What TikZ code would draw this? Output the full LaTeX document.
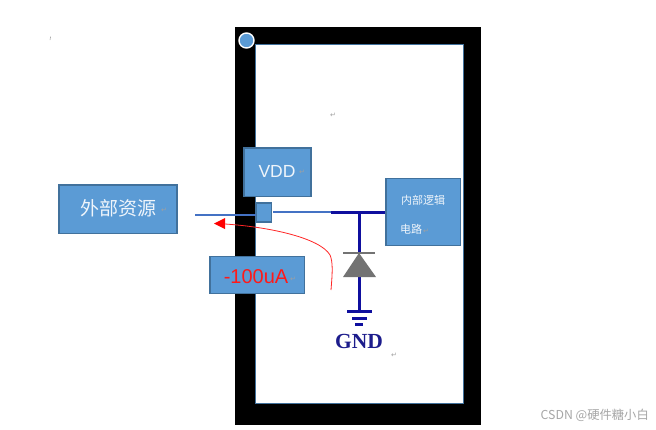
\documentclass[tikz,border=0pt]{standalone}
\usepackage{fontspec}
\setmainfont{Liberation Sans}
\newfontfamily\cjk{Noto Sans CJK SC}
\newfontfamily\dejavu{DejaVu Sans}
\newfontfamily\serifgnd{Liberation Serif}
\usetikzlibrary{arrows.meta}
\definecolor{boxfill}{HTML}{5B9BD5}
\definecolor{boxline}{HTML}{41719C}
\definecolor{wireblue}{HTML}{4472C4}
\definecolor{darkwire}{HTML}{0F0F9E}
\definecolor{gndblue}{HTML}{1C1C8C}
\definecolor{retgray}{HTML}{A0A0A0}
\tikzset{
  bluebox/.style={draw=boxline,line width=1.6pt,fill=boxfill,inner sep=0pt,anchor=north west},
  wirethin/.style={draw=wireblue,line width=2.2pt},
  wirethick/.style={draw=darkwire,line width=3pt},
  retmark/.style={text=retgray,font=\dejavu\fontsize{7}{7}\selectfont,inner sep=0pt},
}
\begin{document}
\begin{tikzpicture}[x=1pt,y=-1pt]
\useasboundingbox (0,0) rectangle (656,429);
\fill[white] (0,0) rectangle (656,429);
% package
\fill[black] (235,27) rectangle (481,425);
\draw[draw=boxline,fill=white,line width=1.6pt] (255.5,44.5) rectangle (463.5,403.5);
\node[circle,draw=white,fill=boxfill,line width=1.4pt,minimum size=15pt,inner sep=0pt] (pin) at (246.5,40.5) {};
% boxes
\node[bluebox,minimum width=67pt,minimum height=48.5pt] (vdd) at (243,147) {};
\node[text=white!90!boxfill,font=\fontsize{17.5}{17.5}\selectfont,inner sep=0pt] (vddt) at (277,171.5) {VDD};
\node[bluebox,minimum width=15pt,minimum height=19pt] (port) at (255.5,202) {};
\node[bluebox,minimum width=118pt,minimum height=48.5pt] (ext) at (58,184) {};
\node[text=white!90!boxfill,font=\cjk\fontsize{19}{19}\selectfont,inner sep=0pt] (extt) at (118.5,208) {外部资源};
\node[bluebox,minimum width=74.5pt,minimum height=67pt] (logic) at (385,177.5) {};
\node[text=white!90!boxfill,font=\cjk\fontsize{11}{11}\selectfont,inner sep=0pt] (logica) at (423,200) {内部逻辑};
\node[text=white!90!boxfill,font=\cjk\fontsize{11}{11}\selectfont,inner sep=0pt,anchor=west] (logicb) at (400,229) {电路};
\node[bluebox,minimum width=94.5pt,minimum height=37pt] (cur) at (209,255.5) {};
\node[text=red!90!white,font=\fontsize{20}{20}\selectfont,inner sep=0pt] (curt) at (256,277) {-100uA};
% wires
\coordinate (extend) at (195,215);
\coordinate (jn) at (359,212);
\coordinate (jl) at (331,212);
\coordinate (portr) at (273,212);
\coordinate (dtop) at (359,253);
\coordinate (dbot) at (359,277);
\coordinate (gnd1) at (359,311);
\draw[wirethin] (extend) -- (port.west |- extend);
\draw[wirethin] (portr) -- (jl);
\draw[wirethick] (jl) -- (logic.west |- jn);
\draw[wirethick] (jn) -- (dtop);
\draw[wirethick] (dbot) -- (gnd1);
% diode
\fill[black!55] (dtop) -- (376,277) -- (343,277) -- cycle;
\draw[black!55,line width=2.2pt] (343,253) -- (375,253);
% ground
\draw[wirethick] (347,311) -- (372,311);
\draw[wirethick] (352,318) -- (367,318);
\draw[wirethick] (355,324) -- (363,324);
\node[text=gndblue,font=\serifgnd\bfseries\fontsize{21.5}{21.5}\selectfont,inner sep=0pt] (gnd) at (359,341) {GND};
% current arrow
\coordinate (cs) at (331,290);
\coordinate (ce) at (225,224);
\draw[red!85,line width=0.8pt] (cs) .. controls (332.5,272) and (333,262) .. (330,255)
  .. controls (320,238) and (270,227) .. (ce);
\fill[red] (214,223.5) -- (225,218) -- (225,229) -- cycle;
% return marks
\node[retmark] (r1) at (333,115) {↵};
\node[retmark] (r2) at (394,355) {↵};
\node[retmark] (r3) at (302,172) {↵};
\node[retmark] (r4) at (164,210) {↵};
\node[retmark] (r5) at (293,279) {↵};
\node[retmark] (r6) at (426,231) {↵};
\draw[black!50,line width=0.4pt] (50.5,36.5) -- (50,40);
% watermark
\node[text=black!35,font=\cjk\fontsize{12.3}{12.3}\selectfont,inner sep=0pt,anchor=east] (wm) at (649,415) {CSDN @硬件糖小白};
\end{tikzpicture}
\end{document}
